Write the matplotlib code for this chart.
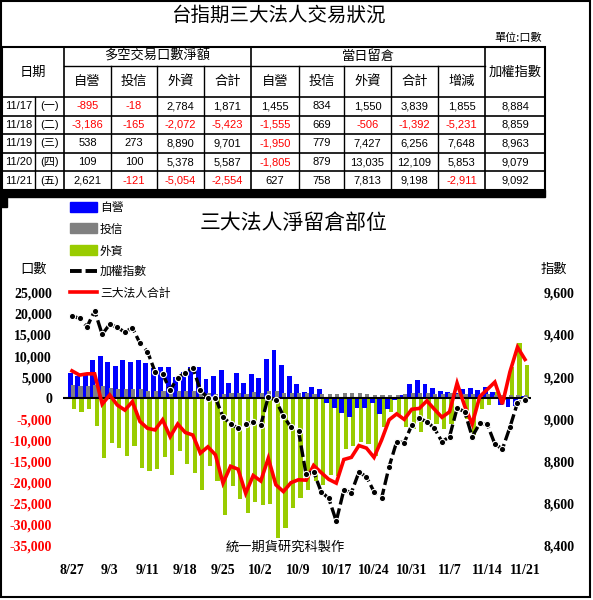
import numpy as np
import matplotlib
matplotlib.use('Agg')
import matplotlib.pyplot as plt
from matplotlib.patches import Rectangle
from matplotlib.lines import Line2D

plt.rcParams['font.family'] = ['Noto Sans CJK TC', 'DejaVu Sans']

# ---- 表格資料 ----
tbl_dates = ['11/17', '11/18', '11/19', '11/20', '11/21']
tbl_wd = ['(一)', '(二)', '(三)', '(四)', '(五)']
net_dealer = [-895, -3186, 538, 109, 2621]
net_trust = [-18, -165, 273, 100, -121]
net_foreign = [2784, -2072, 8890, 5378, -5054]
net_total = [1871, -5423, 9701, 5587, -2554]
oi_dealer_t = [1455, -1555, -1950, -1805, 627]
oi_trust_t = [834, 669, 779, 879, 758]
oi_foreign_t = [1550, -506, 7427, 13035, 7813]
oi_total_t = [3839, -1392, 6256, 12109, 9198]
oi_change = [1855, -5231, 7648, 5853, -2911]
taiex_t = [8884, 8859, 8963, 9079, 9092]

# ---- 圖表資料 (交易日) ----
days = ['8/27', '8/28', '8/29',
        '9/1', '9/2', '9/3', '9/4', '9/5', '9/9', '9/10', '9/11', '9/12',
        '9/15', '9/16', '9/17', '9/18', '9/19', '9/22', '9/23', '9/24', '9/25', '9/26',
        '9/29', '9/30', '10/1', '10/2', '10/3', '10/6', '10/7', '10/8', '10/9',
        '10/13', '10/14', '10/15', '10/16', '10/17', '10/20', '10/21', '10/22', '10/23', '10/24',
        '10/27', '10/28', '10/29', '10/30', '10/31', '11/3', '11/4', '11/5', '11/6', '11/7',
        '11/10', '11/11', '11/12', '11/13', '11/14', '11/17', '11/18', '11/19', '11/20', '11/21']

dealer = [6100, 5300, 5500, 9100, 10000, 8700, 7700, 9100, 8500, 9100,
          8300, 7100, 7300, 7500, 5100, 6300, 7500, 7500, 4500, 5300,
          6700, 3600, 6100, 3700, 5800, 4700, 9200, 11500, 7900, 5300,
          3400, 1600, 2600, 2200, -1200, -2400, -3600, -4400, -2400, -2400,
          -1200, -3800, -2600, -500, 800, 3400, 4300, 3400, 2400, 1800,
          1600, 1200, 2100, 2400, 2000, 2600, 1455, -1555, -1950, -1805, 627]
trust = [3200, 3000, 3000, 3200, 3000, 2500, 2200, 2200, 2200, 2200,
         1800, 1800, 1800, 1900, 1800, 1800, 1800, 1600, 1200, 1000,
         1000, 1200, 1200, 1000, 1400, 1200, 1800, 1800, 1200, 1200,
         1200, 1200, 1100, 1000, 1000, 1000, 1200, 1200, 1300, 1000,
         800, 700, 800, 900, 1000, 1200, 1300, 1200, 1100, 1000,
         1200, 1100, 1000, 1000, 1000, 1100, 834, 669, 779, 879, 758]
foreign = [-2600, -3200, -2600, -6500, -14200, -10500, -11700, -13600, -11200, -16500,
           -17200, -16800, -14000, -18100, -12600, -15600, -17800, -21800, -16000, -19500,
           -27700, -20700, -23900, -27200, -24500, -25400, -25000, -33000, -30800, -26000,
           -23600, -21800, -19600, -20600, -18200, -18500, -12100, -11200, -10400, -10800,
           -13600, -6800, -3300, -4100, -6800, -7200, -8000, -5200, -6100, -7300,
           -6000, 1300, -4900, -8800, -2600, -1600, 1550, -506, 7427, 13035, 7813]
total = [6500, 5500, 5800, 5800, -1400, 800, -1600, -2800, -800, -5500,
         -7100, -7500, -5100, -9100, -6100, -8100, -8700, -13000, -11500, -13400,
         -20100, -16100, -16800, -22500, -18300, -19600, -14200, -20500, -22100, -20000,
         -19300, -19400, -15900, -17600, -19200, -20100, -14500, -14000, -11200, -11800,
         -14000, -9900, -5100, -3700, -5000, -2600, -2400, -600, -2600, -4500,
         -3200, 3600, -1800, -6100, 400, 2100, 3839, -1392, 6256, 12109, 9198]
taiex = [9490, 9479, 9439, 9515, 9403, 9451, 9436, 9413, 9435, 9361,
         9321, 9226, 9215, 9139, 9198, 9221, 9245, 9139, 9100, 9102,
         9012, 8978, 8958, 8976, 8989, 8973, 9108, 9090, 9017, 8962,
         8945, 8740, 8752, 8657, 8626, 8518, 8665, 8653, 8750, 8728,
         8657, 8626, 8776, 8894, 8890, 8973, 9005, 8989, 8958, 8894,
         8918, 9053, 9037, 8918, 8981, 8976, 8884, 8859, 8963, 9079, 9092]

W, H = 593, 600
fig = plt.figure(figsize=(W / 100, H / 100), dpi=100)
fig.patch.set_facecolor('white')

# 全圖座標層 (像素)
ov = fig.add_axes([0, 0, 1, 1])
ov.set_xlim(0, W)
ov.set_ylim(H, 0)
ov.axis('off')

RED = '#FF0000'
num_font = ['Liberation Sans', 'Noto Sans CJK TC']

# 外框
ov.add_patch(Rectangle((1, 1), 589, 596, fill=False, lw=1.5, ec='black'))
ov.text(278, 15, '台指期三大法人交易狀況', ha='center', va='center', fontsize=14)
ov.text(542, 38, '單位:口數', ha='right', va='center', fontsize=8)

# 表格
cols = [2, 35, 64, 111, 157, 204, 251, 299, 344, 391, 438, 485, 545]
top, mid, hdr, bot = 47, 66, 97, 190
rows = np.linspace(hdr, bot, 6)
ov.add_patch(Rectangle((2, top), 543, bot - top, fill=False, lw=1.5, ec='black'))
ov.plot([64, 485], [mid, mid], color='black', lw=1)
for yy in rows[:-1]:
    ov.plot([2, 545], [yy, yy], color='black', lw=1.2)
ov.plot([35, 35], [hdr, bot], color='black', lw=1)
for cx in [64, 251, 485]:
    ov.plot([cx, cx], [top, bot], color='black', lw=1.2)
for cx in [111, 157, 204, 299, 344, 391, 438]:
    ov.plot([cx, cx], [mid, bot], color='black', lw=1)
ov.add_patch(Rectangle((0, 190), 545, 7, color='black'))
ov.add_patch(Rectangle((0, 190), 7, 17, color='black'))

hfs = 9.5
ov.text(33, 72, '日期', ha='center', va='center', fontsize=hfs)
ov.text(157.5, 56.5, '多空交易口數淨額', ha='center', va='center', fontsize=hfs)
ov.text(368, 56.5, '當日留倉', ha='center', va='center', fontsize=hfs)
ov.text(515, 72, '加權指數', ha='center', va='center', fontsize=hfs)
subs = ['自營', '投信', '外資', '合計', '自營', '投信', '外資', '合計', '增減']
for k, s in enumerate(subs):
    ov.text((cols[k + 2] + cols[k + 3]) / 2, 81.5, s, ha='center', va='center', fontsize=hfs)

tbl_cols = [net_dealer, net_trust, net_foreign, net_total, oi_dealer_t,
            oi_trust_t, oi_foreign_t, oi_total_t, oi_change, taiex_t]
for r in range(5):
    yc = (rows[r] + rows[r + 1]) / 2
    ov.text(18.5, yc, tbl_dates[r], ha='center', va='center', fontsize=8, family=num_font)
    ov.text(49.5, yc, tbl_wd[r], ha='center', va='center', fontsize=8, family=num_font)
    for k, col in enumerate(tbl_cols):
        v = col[r]
        ov.text((cols[k + 2] + cols[k + 3]) / 2, yc, f'{v:,}', ha='center', va='center',
                fontsize=8, family=num_font, color=RED if v < 0 else 'black')

# 圖表
px0, px1, py0, py1 = 63, 531, 292.8, 546
ax = fig.add_axes([px0 / W, (H - py1) / H, (px1 - px0) / W, (py1 - py0) / H])
ax.patch.set_alpha(0)
x = np.arange(len(days))
ax.set_xlim(-1.19, 60.79)
ax.set_ylim(-35000, 25000)

ax.bar(x + 0.27, foreign, width=0.55, color='#99CC00', zorder=2)
ax.bar(x - 0.25, dealer, width=0.65, color='#0000FF', zorder=3)
ax.bar(x + 0.12, trust, width=0.55, color='#808080', zorder=4)
ax.axhline(0, color='black', lw=1.5, zorder=5)
ax.plot(x, total, color=RED, lw=2.6, zorder=6, solid_joinstyle='miter')

yt = np.arange(-35000, 25001, 5000)
ax.set_yticks(yt)
ax.set_yticklabels([f'{v:,}' for v in yt], family='Liberation Serif', fontsize=10,
                   fontweight='bold')
for lab, v in zip(ax.get_yticklabels(), yt):
    if v < 0:
        lab.set_color(RED)
ax.set_xticks(x[::5])
ax.set_xticklabels(days[::5], family='Liberation Serif', fontsize=10, fontweight='bold')
ax.tick_params(axis='y', length=0, pad=8)
ax.tick_params(axis='x', length=0, pad=13)
for sp in ax.spines.values():
    sp.set_visible(False)

ax2 = ax.twinx()
ax2.set_ylim(8400, 9600)
rt = np.arange(8400, 9601, 200)
ax2.set_yticks(rt)
ax2.set_yticklabels([f'{v:,}' for v in rt], family='Liberation Serif', fontsize=10,
                    fontweight='bold')
ax2.tick_params(axis='y', length=0, pad=9)
for sp in ax2.spines.values():
    sp.set_visible(False)
ax2.plot(x, taiex, color='black', lw=2.4, dashes=(3.5, 1.2), marker='o', ms=4.5,
         mfc='black', mec='white', mew=0.8, zorder=5)

# 標題與圖例
ov.text(294, 223, '三大法人淨留倉部位', ha='center', va='center', fontsize=15)
ov.text(34, 269, '口數', ha='center', va='center', fontsize=9.5)
ov.text(554, 269, '指數', ha='center', va='center', fontsize=9.5)
ov.text(285, 547, '統一期貨研究科製作', ha='center', va='center', fontsize=9.5)

leg = [('自營', '#0000FF', 206.5), ('投信', '#808080', 228), ('外資', '#99CC00', 250)]
for name, c, yy in leg:
    ov.add_patch(Rectangle((70, yy - 5), 27, 10, color=c))
    ov.text(100, yy + 1, name, ha='left', va='center', fontsize=8.5)
ov.add_line(Line2D([70, 97], [271, 271], color='black', lw=2.8, dashes=(3, 1)))
ov.text(100, 271, '加權指數', ha='left', va='center', fontsize=8.5)
ov.add_line(Line2D([70, 97], [292, 292], color=RED, lw=2.6))
ov.text(100, 293, '三大法人合計', ha='left', va='center', fontsize=8.5)

fig.savefig('out.png', dpi=100)
